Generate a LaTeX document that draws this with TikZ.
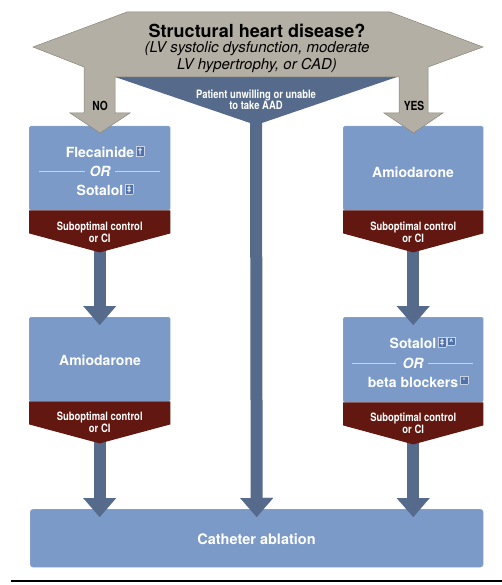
\documentclass[tikz,border=0pt]{standalone}
\usepackage{fontspec}
\setmainfont{TeX Gyre Heros}
\newfontfamily\cond{TeX Gyre Heros}[FakeStretch=0.82]
\usetikzlibrary{arrows.meta,calc}
\definecolor{boxblue}{HTML}{7B9AC7}
\definecolor{maroon}{HTML}{621810}
\definecolor{slate}{HTML}{566A8B}
\definecolor{taupe}{HTML}{B4AFA4}
\definecolor{taupeline}{HTML}{8A857A}
\definecolor{supblue}{HTML}{4F72AB}
\definecolor{orline}{HTML}{C8D4E6}
\newcommand\mk[1]{\raisebox{4pt}{\setlength{\fboxsep}{0.5pt}\setlength{\fboxrule}{0.5pt}\fcolorbox{orline}{supblue}{\makebox[6pt][c]{\rule{0pt}{6.5pt}\fontsize{7.5}{7.5}\selectfont\color{white}#1}}}}
\newcommand\supmarks[1]{\rlap{\hspace{2pt}#1}}
\tikzset{
  bluebox/.style={fill=boxblue, draw=boxblue!85!white, line width=0.4pt, rounded corners=1.5pt, inner sep=0pt, anchor=north west},
  redpart/.style={fill=maroon},
  medtxt/.style={text=white, font=\bfseries\fontsize{14}{16}\selectfont, inner sep=0pt},
  redtxt/.style={text=white, font=\cond\bfseries\fontsize{11.5}{11}\selectfont, align=center, inner sep=0pt},
  condlbl/.style={text=black, font=\cond\bfseries\fontsize{12.5}{13}\selectfont, inner sep=0pt},
  orln/.style={draw=orline, line width=0.8pt},
  fat/.style={draw=slate, line width=12pt, -{Triangle[width=33pt,length=19pt,line width=0.01pt]}},
}
\begin{document}
\begin{tikzpicture}[x=1pt,y=-1pt]
\useasboundingbox (0,0) rectangle (502,585);

% blue boxes
\node[bluebox, minimum width=141pt, minimum height=84pt] (b1) at (29,126) {};
\node[bluebox, minimum width=140pt, minimum height=84pt] (b2) at (343,126) {};
\node[bluebox, minimum width=141pt, minimum height=84pt] (b3) at (29,317) {};
\node[bluebox, minimum width=140pt, minimum height=85pt] (b4) at (343,317) {};
\node[bluebox, minimum width=453pt, minimum height=58pt, rounded corners=3pt] (cath) at (30,509) {};

% apex coordinates of the red parts
\coordinate (r1) at ($(b1.south)+(0,42)$);
\coordinate (r2) at ($(b2.south)+(0,42)$);
\coordinate (r3) at ($(b3.south)+(0,42)$);
\coordinate (r4) at ($(b4.south)+(0,42)$);

% connectors
\draw[fat] ($(r1)+(0,-3)$) -- ($(b3.north)+(0,8)$);
\draw[fat] ($(r2)+(0,-3)$) -- ($(b4.north)+(0,8)$);
\draw[fat] ($(r3)+(0,-3)$) -- ($(r3 |- cath.north)+(0,8)$);
\draw[fat] ($(r4)+(0,-3)$) -- ($(r4 |- cath.north)+(0,8)$);

% red parts
\foreach \b/\r in {b1/r1,b2/r2,b3/r3,b4/r4}{
  \path[redpart] (\b.south west) -- (\b.south east) -- ++(0,23) -- (\r) -- ($(\b.south west)+(0,23)$) -- cycle;
}

% middle (blue) triangle and its connector
\coordinate (tl) at (115,77);
\coordinate (tr) at (397,77);
\coordinate (tapex) at (256,125);
\path[fill=slate] (tl) -- (tr) -- (tapex) -- cycle;
\draw[fat] (256,118) -- ($(cath.north)+(0,8)$);

% grey decision shape
\path[fill=taupe, draw=taupeline, line width=0.5pt, line join=miter]
  (33,47) -- (127,12) -- (390,12) -- (483,47) -- (428,67) -- (428,113) -- (443,113) -- (413.5,133)
  -- (384,113) -- (399,113) -- (399,77) -- (115,77) -- (115,113) -- (130,113) -- (100,133)
  -- (70,113) -- (84,113) -- (84,67) -- cycle;

% texts in the top shape
\node[font=\bfseries\fontsize{18}{20}\selectfont, inner sep=0pt] (q) at (257,31) {Structural heart disease?};
\node[font=\itshape\fontsize{15}{17}\selectfont, align=center, inner sep=0pt] (qs) at (257,57) {(LV systolic dysfunction, moderate\\LV hypertrophy, or CAD)};
\node[condlbl] (no) at (100,106) {NO};
\node[condlbl] (yes) at (414,106) {YES};
\node[redtxt] (pt) at (256,99.5) {Patient unwilling or unable\\to take AAD};

% box texts
\node[medtxt] (f1) at (100,152) {Flecainide\supmarks{\mk{\textdagger}}};
\node[medtxt, font=\bfseries\itshape\fontsize{14}{16}\selectfont] (or1) at (100,171) {OR};
\draw[orln] (39,171) -- (85,171);
\draw[orln] (115,171) -- (160,171);
\node[medtxt] (s1) at (100,190) {Sotalol\supmarks{\mk{\textdaggerdbl}}};

\node[medtxt] (a2) at (413,172) {Amiodarone};
\node[medtxt] (a3) at (100,360) {Amiodarone};

\node[medtxt] (s4) at (413,343) {Sotalol\supmarks{\mk{\textdaggerdbl}\hspace{1pt}\mk{\textasciicircum}}};
\node[medtxt, font=\bfseries\itshape\fontsize{14}{16}\selectfont] (or4) at (413,363) {OR};
\draw[orln] (352,363) -- (396,363);
\draw[orln] (428,363) -- (473,363);
\node[medtxt] (bb4) at (413,382) {beta blockers\supmarks{\mk{\textdegree}}};

\node[redtxt] at ($(b1.south)+(0,22)$) {Suboptimal control\\or CI};
\node[redtxt] at ($(b2.south)+(0,22)$) {Suboptimal control\\or CI};
\node[redtxt] at ($(b3.south)+(0,21)$) {Suboptimal control\\or CI};
\node[redtxt] at ($(b4.south)+(0,21)$) {Suboptimal control\\or CI};

\node[medtxt, font=\bfseries\fontsize{14.5}{16}\selectfont] (ct) at (256.5,539) {Catheter ablation};

% bottom rule
\coordinate (ruleL) at (11,581);
\coordinate (ruleR) at (502,581);
\draw[line width=1.5pt] (ruleL) -- (ruleR);
\end{tikzpicture}
\end{document}
